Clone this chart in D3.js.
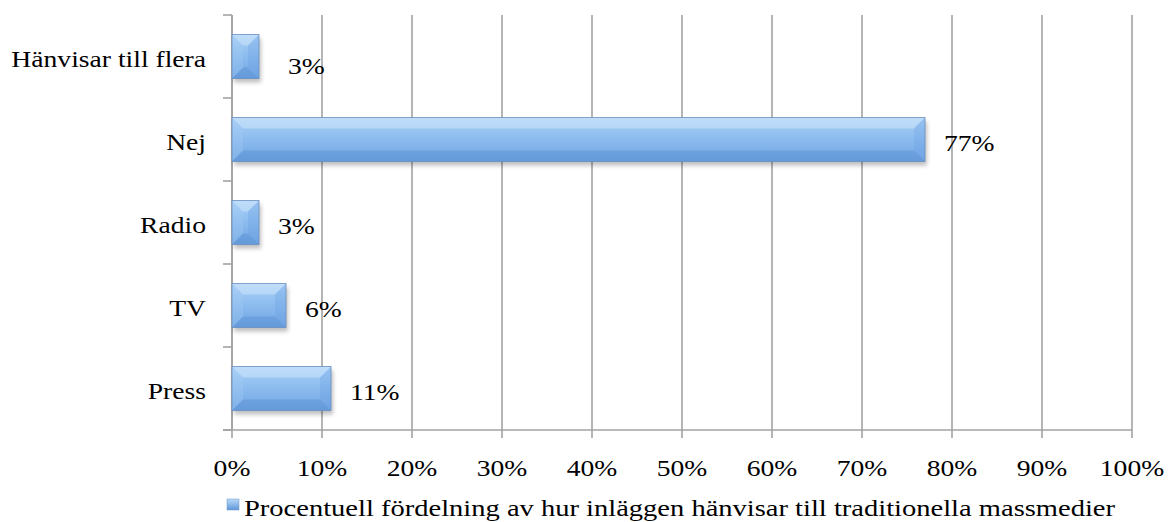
<!DOCTYPE html>
<html>
<head>
<meta charset="utf-8">
<script src="https://cdn.jsdelivr.net/npm/d3@7"></script>
<style>
  html, body { margin: 0; padding: 0; background: #fff; }
  svg text { font-family: "Liberation Serif", "Times New Roman", serif; fill: #000; }
</style>
</head>
<body>
<svg id="chart" width="1173" height="522"></svg>
<script>
const categories = ["Hänvisar till flera", "Nej", "Radio", "TV", "Press"];
const values = [3, 77, 3, 6, 11];
const valueLabels = ["3%", "77%", "3%", "6%", "11%"];
const xTicks = [0, 10, 20, 30, 40, 50, 60, 70, 80, 90, 100];
const xTickLabels = ["0%", "10%", "20%", "30%", "40%", "50%", "60%", "70%", "80%", "90%", "100%"];
const legendLabel = "Procentuell fördelning av hur inläggen hänvisar till traditionella massmedier";

(function () {
const svg = d3.select("#chart");
const pLeft = 232, pRight = 1132, pTop = 15, pBottom = 430;
const fontSize = 24;
const sx = 1.15;

const x = d3.scaleLinear().domain([0, 100]).range([pLeft, pRight]);
const y = d3.scaleBand().domain(categories).range([pTop, pBottom]).paddingInner(0.47).paddingOuter(0.235);
const step = y.step();

const defs = svg.append("defs");
const g1 = defs.append("linearGradient").attr("id", "barGrad").attr("x1", 0).attr("y1", 0).attr("x2", 0).attr("y2", 1);
g1.append("stop").attr("offset", "0%").attr("stop-color", "#acd2f8");
g1.append("stop").attr("offset", "45%").attr("stop-color", "#8ebdef");
g1.append("stop").attr("offset", "100%").attr("stop-color", "#70a5e3");
const g2 = defs.append("linearGradient").attr("id", "legGrad").attr("x1", 0).attr("y1", 0).attr("x2", 0).attr("y2", 1);
g2.append("stop").attr("offset", "0%").attr("stop-color", "#b9daf9");
g2.append("stop").attr("offset", "100%").attr("stop-color", "#5f96da");
const blur = defs.append("filter").attr("id", "shadow").attr("x", "-10%").attr("y", "-20%").attr("width", "130%").attr("height", "160%");
blur.append("feGaussianBlur").attr("stdDeviation", 2.2);

// gridlines
svg.append("g").selectAll("line").data(xTicks).join("line")
  .attr("x1", d => x(d)).attr("x2", d => x(d))
  .attr("y1", pTop).attr("y2", pBottom + 8)
  .attr("stroke", "#a3a3a3").attr("stroke-width", 1.6);

// y axis line and ticks at band boundaries
const yBounds = d3.range(categories.length + 1).map(i => pTop + i * step);
svg.append("line").attr("x1", pLeft).attr("x2", pLeft).attr("y1", pTop).attr("y2", pBottom)
  .attr("stroke", "#a3a3a3").attr("stroke-width", 1.6);
svg.append("g").selectAll("line").data(yBounds).join("line")
  .attr("x1", pLeft - 9).attr("x2", pLeft).attr("y1", d => d).attr("y2", d => d)
  .attr("stroke", "#a3a3a3").attr("stroke-width", 1.6);
svg.append("line").attr("x1", pLeft - 9).attr("x2", pRight).attr("y1", pBottom).attr("y2", pBottom)
  .attr("stroke", "#a3a3a3").attr("stroke-width", 1.6);

// bars
const bw = y.bandwidth();
const bars = svg.append("g").selectAll("g").data(categories).join("g");
bars.each(function(c, i) {
  const gg = d3.select(this);
  const x0 = x(0), x1 = x(values[i]), y0 = y(c), y1 = y(c) + bw;
  const w = x1 - x0;
  const b = Math.min(11, w / 2, bw / 2);
  gg.append("rect").attr("x", x0 + 2).attr("y", y0 + 4).attr("width", w).attr("height", bw)
    .attr("fill", "#000").attr("opacity", 0.25).attr("filter", "url(#shadow)");
  gg.append("rect").attr("x", x0).attr("y", y0).attr("width", w).attr("height", bw).attr("fill", "url(#barGrad)");
  gg.append("polygon").attr("points", [[x0, y0], [x1, y0], [x1 - b, y0 + b], [x0 + b, y0 + b]].join(" "))
    .attr("fill", "#d6ebfd").attr("opacity", 0.45);
  gg.append("polygon").attr("points", [[x0, y1], [x1, y1], [x1 - b, y1 - b], [x0 + b, y1 - b]].join(" "))
    .attr("fill", "#4f86cc").attr("opacity", 0.35);
  gg.append("polygon").attr("points", [[x0, y0], [x0 + b, y0 + b], [x0 + b, y1 - b], [x0, y1]].join(" "))
    .attr("fill", "#a5cdf5").attr("opacity", 0.3);
  gg.append("polygon").attr("points", [[x1, y0], [x1 - b, y0 + b], [x1 - b, y1 - b], [x1, y1]].join(" "))
    .attr("fill", "#6a9fe0").attr("opacity", 0.3);
  gg.append("rect").attr("x", x0).attr("y", y0).attr("width", w).attr("height", bw)
    .attr("fill", "none").attr("stroke", "#6a90bf").attr("stroke-width", 0.8);
});

function scaledText(parent, tx, ty, anchor, txt) {
  return parent.append("text")
    .attr("transform", `translate(${tx},${ty}) scale(${sx},1)`)
    .attr("text-anchor", anchor).attr("font-size", fontSize)
    .text(txt);
}

// value labels
const vl = svg.append("g");
categories.forEach((c, i) => {
  scaledText(vl, x(values[i]) + 19 + (i === 0 ? 10 : 0), y(c) + bw / 2 + 11 + (i === 0 ? 6 : 0), "start", valueLabels[i]);
});

// category labels
const cl = svg.append("g");
categories.forEach(c => {
  scaledText(cl, 206, y(c) + bw / 2 + 10.5, "end", c);
});

// x tick labels
const tl = svg.append("g");
xTicks.forEach((d, i) => {
  scaledText(tl, x(d), 476, "middle", xTickLabels[i]);
});

// legend
svg.append("rect").attr("x", 227).attr("y", 499).attr("width", 12).attr("height", 11)
  .attr("fill", "url(#legGrad)").attr("stroke", "#6f98c8").attr("stroke-width", 0.5);
svg.append("text").attr("x", 244).attr("y", 516).attr("font-size", fontSize)
  .attr("textLength", 871).attr("lengthAdjust", "spacingAndGlyphs").text(legendLabel);
})();
</script>
</body>
</html>
